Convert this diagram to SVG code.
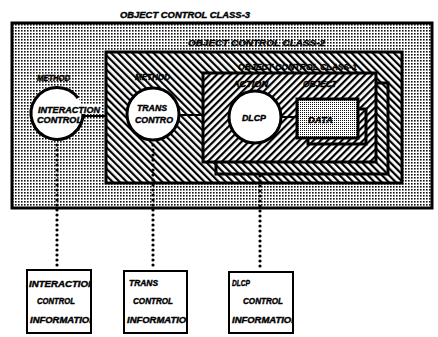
<svg xmlns="http://www.w3.org/2000/svg" width="438" height="337" viewBox="0 0 438 337">
<style>
.lbl{font-family:"Liberation Sans",Arial,sans-serif;font-weight:bold;font-style:italic;font-size:8.5px;fill:#000;stroke:#000;stroke-width:0.4}
.big{font-size:9px}
.box{stroke:#000;stroke-width:3}
.open{stroke:#000;stroke-width:3;fill:none}
.circ{fill:#fff;stroke:#000;stroke-width:3}
.info{fill:#fff;stroke:#000;stroke-width:2}
.dot{stroke:#000;stroke-width:3.2;stroke-linecap:round;stroke-dasharray:0 5;fill:none}
.line{stroke:#000;stroke-width:2;fill:none}
</style>
<defs>
<pattern id="dots" width="3" height="3" patternUnits="userSpaceOnUse"><rect width="3" height="3" fill="#fff"/><rect width="1.6" height="1.6" fill="#111"/></pattern>
<pattern id="dense" width="2" height="2" patternUnits="userSpaceOnUse"><rect width="2" height="2" fill="#fff"/><rect width="1" height="1" fill="#111"/></pattern>
<pattern id="back" width="5" height="5" patternUnits="userSpaceOnUse" patternTransform="rotate(-45)"><rect width="5" height="5" fill="#fff"/><rect width="2.2" height="5" fill="#000"/></pattern>
<pattern id="fwd" width="5" height="5" patternUnits="userSpaceOnUse" patternTransform="rotate(45)"><rect width="5" height="5" fill="#fff"/><rect width="2.2" height="5" fill="#000"/></pattern>
<clipPath id="c1"><rect x="27" y="270" width="64" height="62"/></clipPath>
<clipPath id="c2"><rect x="124" y="271" width="63" height="62"/></clipPath>
<clipPath id="c3"><rect x="229" y="272" width="64" height="61"/></clipPath>
</defs>

<text class="lbl big" x="120" y="18" textLength="130" lengthAdjust="spacingAndGlyphs">OBJECT CONTROL CLASS-3</text>

<g id="class3">
<rect x="12" y="23" width="420" height="185" style="fill:url(#dots)" class="box"/>
<text class="lbl" x="188" y="46" textLength="137" lengthAdjust="spacingAndGlyphs">OBJECT CONTROL CLASS-2</text>
</g>

<g id="class2">
<rect x="106" y="52" width="296" height="131" style="fill:url(#back)" class="box"/>
<text class="lbl" x="238" y="70" textLength="119" lengthAdjust="spacingAndGlyphs">OBJECT CONTROL CLASS-1</text>
</g>

<g id="class1">
<polyline points="376,83 388,83 388,174 216,174 216,162" class="open"/>
<rect x="203" y="73" width="173" height="89" style="fill:url(#fwd)" class="box"/>
<text class="lbl" x="233" y="87" textLength="35" lengthAdjust="spacingAndGlyphs">ACTION</text>
<text class="lbl" x="303" y="87" textLength="34" lengthAdjust="spacingAndGlyphs">OBJECT</text>
</g>

<g id="connectors">
<line class="line" x1="84" y1="116" x2="106" y2="116"/>
<line class="line" x1="180" y1="115" x2="203" y2="115"/>
<line class="line" x1="282" y1="117" x2="297" y2="117"/>
<line class="dot" x1="57" y1="145" x2="57" y2="268"/>
<line class="dot" x1="153" y1="145" x2="153" y2="269"/>
<line class="dot" x1="260" y1="176" x2="260" y2="270"/>
</g>

<g id="interaction">
<text class="lbl" x="37" y="81" textLength="33" lengthAdjust="spacingAndGlyphs">METHOD</text>
<circle cx="57" cy="113" r="26" fill="#fff"/>
<path d="M78 98 A26 26 0 1 0 83 112" class="open"/>
<rect x="82" y="104" width="19" height="10" fill="#fff"/>
<text class="lbl" x="38" y="113" textLength="62" lengthAdjust="spacingAndGlyphs">INTERACTION</text>
<text class="lbl" x="37" y="123" textLength="45" lengthAdjust="spacingAndGlyphs">CONTROL</text>
</g>

<g id="trans">
<text class="lbl" x="135" y="80" textLength="35" lengthAdjust="spacingAndGlyphs">METHOD</text>
<circle cx="153" cy="114" r="26" class="circ"/>
<text class="lbl" x="137" y="111" textLength="30" lengthAdjust="spacingAndGlyphs">TRANS</text>
<text class="lbl" x="135" y="123" textLength="38" lengthAdjust="spacingAndGlyphs">CONTRO</text>
</g>

<g id="dlcp">
<circle cx="255" cy="117" r="26" class="circ"/>
<text class="lbl" x="242" y="121" textLength="24" lengthAdjust="spacingAndGlyphs">DLCP</text>
</g>

<g id="data">
<polyline points="358,109 366,109 366,144 308,144 308,138" class="open"/>
<rect x="297" y="99" width="61" height="39" style="fill:url(#dense)" class="box"/>
<text class="lbl" x="308" y="123" textLength="25" lengthAdjust="spacingAndGlyphs">DATA</text>
</g>

<g id="info1">
<rect x="27" y="270" width="64" height="63" class="info"/>
<g clip-path="url(#c1)">
<text class="lbl" x="29" y="287" textLength="66" lengthAdjust="spacingAndGlyphs">INTERACTION</text>
<text class="lbl" x="37" y="304" textLength="38" lengthAdjust="spacingAndGlyphs">CONTROL</text>
<text class="lbl" x="30" y="323" textLength="66" lengthAdjust="spacingAndGlyphs">INFORMATION</text>
</g>
</g>

<g id="info2">
<rect x="124" y="271" width="63" height="62" class="info"/>
<g clip-path="url(#c2)">
<text class="lbl" x="129" y="286" textLength="29" lengthAdjust="spacingAndGlyphs">TRANS</text>
<text class="lbl" x="133" y="304" textLength="40" lengthAdjust="spacingAndGlyphs">CONTROL</text>
<text class="lbl" x="127" y="323" textLength="66" lengthAdjust="spacingAndGlyphs">INFORMATION</text>
</g>
</g>

<g id="info3">
<rect x="229" y="272" width="64" height="61" class="info"/>
<g clip-path="url(#c3)">
<text class="lbl" x="232" y="286" textLength="18" lengthAdjust="spacingAndGlyphs">DLCP</text>
<text class="lbl" x="243" y="304" textLength="40" lengthAdjust="spacingAndGlyphs">CONTROL</text>
<text class="lbl" x="232" y="323" textLength="66" lengthAdjust="spacingAndGlyphs">INFORMATION</text>
</g>
</g>
</svg>
